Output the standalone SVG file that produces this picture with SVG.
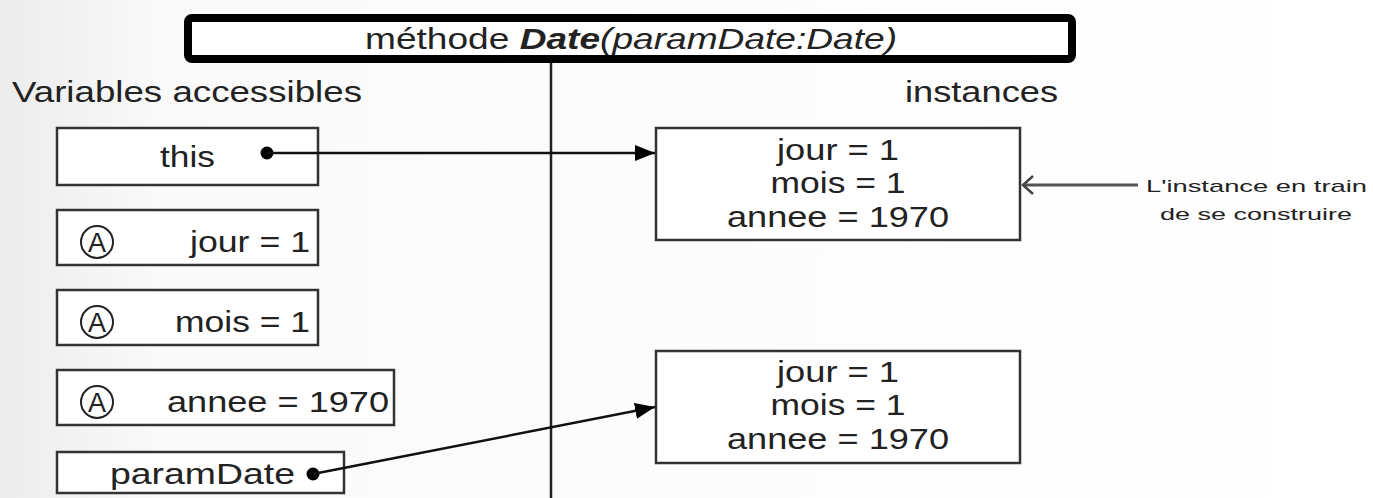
<svg xmlns="http://www.w3.org/2000/svg" width="1373" height="498" viewBox="0 0 1373 498">
<defs>
<linearGradient id="bg" x1="0" y1="0" x2="1" y2="0">
<stop offset="0" stop-color="#ececec"/>
<stop offset="0.12" stop-color="#fafafa"/>
<stop offset="1" stop-color="#ffffff"/>
</linearGradient>
<marker id="tri" viewBox="0 0 20 16" refX="20" refY="8" markerWidth="20" markerHeight="16" markerUnits="userSpaceOnUse" orient="auto">
<path d="M0,0 L20,8 L0,16 Z" fill="#000"/>
</marker>
<marker id="open" viewBox="0 0 14 22" refX="12" refY="11" markerWidth="14" markerHeight="22" markerUnits="userSpaceOnUse" orient="auto" overflow="visible">
<path d="M2,2 L12,11 L2,20" fill="none" stroke="#444" stroke-width="2.5"/>
</marker>
</defs>
<style>
text{font-family:"Liberation Sans",Arial,sans-serif;fill:#222;}
.big{font-size:30px;}
.box{fill:#fff;stroke:#333;stroke-width:2.5;}
.circ{fill:#fff;stroke:#222;stroke-width:2;}
.conn{stroke:#111;stroke-width:2.5;fill:none;}
</style>
<rect x="0" y="0" width="1373" height="498" fill="url(#bg)"/>

<g id="title">
<rect x="188" y="18" width="884" height="41" rx="4" fill="#fff" stroke="#000" stroke-width="8"/>
<text x="365" y="49" class="big" textLength="532" lengthAdjust="spacingAndGlyphs" font-size="28">méthode  <tspan font-weight="bold" font-style="italic">Date</tspan><tspan font-style="italic">(paramDate:Date)</tspan></text>
</g>

<text x="12" y="102" class="big" textLength="350" lengthAdjust="spacingAndGlyphs">Variables accessibles</text>
<text x="905" y="102" class="big" textLength="153" lengthAdjust="spacingAndGlyphs">instances</text>

<g id="var-this">
<rect class="box" x="57" y="128" width="261" height="57"/>
<text x="160" y="167" class="big" textLength="55" lengthAdjust="spacingAndGlyphs">this</text>
<circle cx="267" cy="153" r="6.5" fill="#000"/>
</g>

<g id="var-jour">
<rect class="box" x="57" y="210" width="261" height="55"/>
<circle class="circ" cx="97" cy="242" r="16"/>
<text x="97" y="252" font-size="27" text-anchor="middle">A</text>
<text x="190" y="252" class="big" textLength="120" lengthAdjust="spacingAndGlyphs">jour = 1</text>
</g>

<g id="var-mois">
<rect class="box" x="57" y="290" width="261" height="55"/>
<circle class="circ" cx="97" cy="322" r="16"/>
<text x="97" y="332" font-size="27" text-anchor="middle">A</text>
<text x="175" y="332" class="big" textLength="135" lengthAdjust="spacingAndGlyphs">mois = 1</text>
</g>

<g id="var-annee">
<rect class="box" x="57" y="370" width="337" height="55"/>
<circle class="circ" cx="97" cy="402" r="16"/>
<text x="97" y="412" font-size="27" text-anchor="middle">A</text>
<text x="167" y="412" class="big" textLength="222" lengthAdjust="spacingAndGlyphs">annee = 1970</text>
</g>

<g id="var-paramDate">
<rect class="box" x="57" y="452" width="287" height="41"/>
<text x="110" y="484" class="big" textLength="185" lengthAdjust="spacingAndGlyphs">paramDate</text>
<circle cx="313" cy="474" r="6.5" fill="#000"/>
</g>

<g id="instance1">
<rect class="box" x="656" y="128" width="364" height="112"/>
<text x="838" y="160" class="big" text-anchor="middle" textLength="122" lengthAdjust="spacingAndGlyphs">jour = 1</text>
<text x="838" y="193" class="big" text-anchor="middle" textLength="135" lengthAdjust="spacingAndGlyphs">mois = 1</text>
<text x="838" y="227" class="big" text-anchor="middle" textLength="222" lengthAdjust="spacingAndGlyphs">annee = 1970</text>
</g>

<g id="instance2">
<rect class="box" x="656" y="351" width="364" height="112"/>
<text x="838" y="382" class="big" text-anchor="middle" textLength="122" lengthAdjust="spacingAndGlyphs">jour = 1</text>
<text x="838" y="415" class="big" text-anchor="middle" textLength="135" lengthAdjust="spacingAndGlyphs">mois = 1</text>
<text x="838" y="449" class="big" text-anchor="middle" textLength="222" lengthAdjust="spacingAndGlyphs">annee = 1970</text>
</g>

<g id="note">
<text x="1146" y="192" font-size="17" fill="#333" textLength="221" lengthAdjust="spacingAndGlyphs">L'instance en train</text>
<text x="1256" y="220" font-size="17" fill="#333" text-anchor="middle" textLength="192" lengthAdjust="spacingAndGlyphs">de se construire</text>
</g>

<g id="connectors">
<line x1="551" y1="63" x2="551" y2="498" stroke="#222" stroke-width="2.5"/>
<line class="conn" x1="267" y1="153" x2="655" y2="153" marker-end="url(#tri)"/>
<line class="conn" x1="313" y1="474" x2="655" y2="407" marker-end="url(#tri)"/>
<line x1="1138" y1="185" x2="1023" y2="185" stroke="#555" stroke-width="3" marker-end="url(#open)"/>
</g>
</svg>
